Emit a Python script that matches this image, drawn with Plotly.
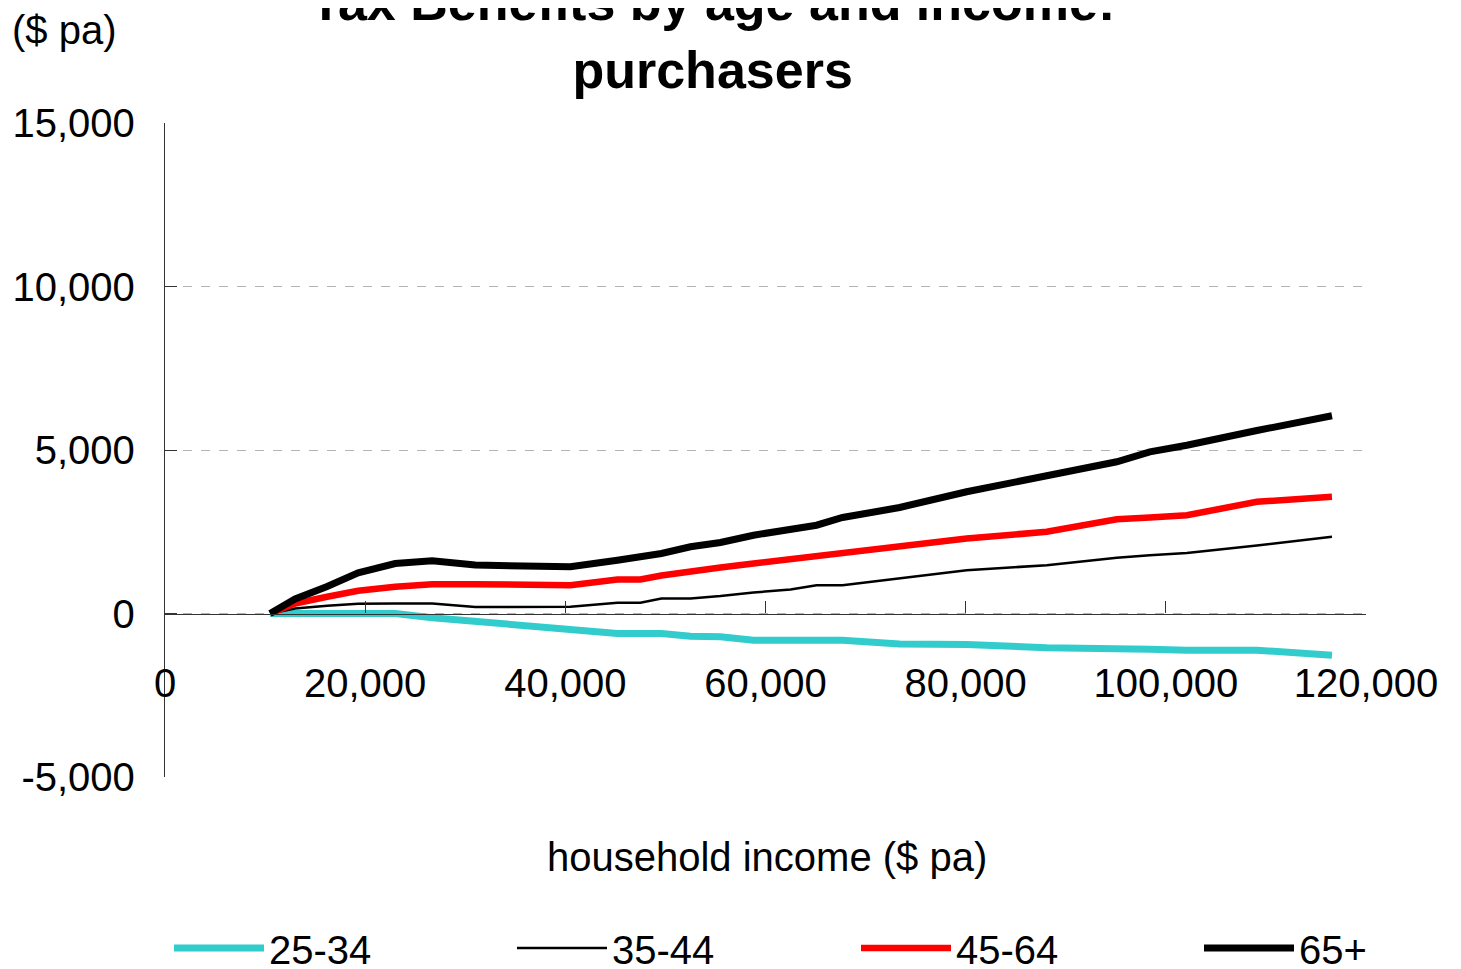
import plotly.graph_objects as go

income = [10500, 13000, 16200, 19300, 23000, 26700, 31000, 40500, 45200, 47500,
          49600, 52500, 55500, 58800, 62500, 65100, 67700, 73400, 80100, 88100,
          95100, 98400, 102100, 109100, 116600]

age_25_34 = [0, 0, 0, 0, 0, -128, -238, -486, -612, -612,
             -612, -694, -713, -817, -817, -817, -817, -933, -948, -1049,
             -1049, -1090, -1122, -1122, -1275]
age_35_44 = [0, 153, 235, 297, 306, 306, 199, 205, 327, 327,
             459, 459, 535, 642, 734, 865, 865, 1070, 1324, 1477,
             1703, 1783, 1850, 2080, 2346]
age_45_64 = [0, 306, 511, 694, 817, 896, 896, 865, 1040, 1040,
             1162, 1294, 1407, 1529, 1661, 1758, 1856, 2049, 2294, 2498,
             2884, 2936, 3006, 3416, 3569]
age_65p = [0, 443, 826, 1245, 1529, 1612, 1483, 1428, 1630, 1743,
           1835, 2040, 2171, 2394, 2600, 2700, 2936, 3242, 3722, 4229,
           4639, 4945, 5147, 5596, 6046]

series_names = ["25-34", "35-44", "45-64", "65+"]
x_ticks = [0, 20000, 40000, 60000, 80000, 100000, 120000]
x_tick_labels = ["0", "20,000", "40,000", "60,000", "80,000", "100,000", "120,000"]
y_ticks = [-5000, 0, 5000, 10000, 15000]
y_tick_labels = ["-5,000", "0", "5,000", "10,000", "15,000"]

FONT = "Liberation Sans, Arial, sans-serif"

# page offset of the figure (default body margin of the html page)
OFF = 8
# plot area in page pixels: left 165, right 1366, top 123, bottom 777
PL, PW, PB, PH = 165, 1201, 777, 654


def px_x(p):
    return (p - PL) / PW


def px_y(p):
    return (PB - p) / PH


fig = go.Figure()
styles = [("#33CCCC", 7), ("#000000", 2.5), ("#FF0000", 6.5), ("#000000", 7)]
legend_ids = ["legend", "legend2", "legend3", "legend4"]
legend_px = [169, 512, 856, 1199]
for name, vals, (col, w), lid in zip(series_names, [age_25_34, age_35_44, age_45_64, age_65p],
                                     styles, legend_ids):
    fig.add_trace(go.Scatter(x=income, y=vals, name=name, mode="lines",
                             line=dict(color=col, width=w), legend=lid))

legend_common = dict(orientation="h", xanchor="left", y=px_y(948), yanchor="middle",
                     font=dict(size=40, family=FONT, color="black"), itemwidth=90,
                     bgcolor="rgba(0,0,0,0)", borderwidth=0)

fig.update_layout(
    width=1461, height=969,
    margin=dict(l=PL - OFF, r=1461 - (PL + PW - OFF), t=PB - PH - OFF,
                b=969 - (PB - OFF), autoexpand=False),
    paper_bgcolor="white", plot_bgcolor="white",
    font=dict(family=FONT, size=40, color="black"),
    showlegend=True,
    xaxis=dict(range=[0, 120000], tickvals=x_ticks, ticktext=x_tick_labels,
               anchor="free", position=0.25, showline=True, linecolor="#333333",
               linewidth=1.3, ticks="inside", ticklen=12, tickcolor="#333333",
               showgrid=False, zeroline=False, ticklabelstandoff=34, automargin=False,
               tickfont=dict(size=40, family=FONT)),
    yaxis=dict(range=[-5000, 15000], tickvals=y_ticks, ticktext=y_tick_labels,
               showline=True, linecolor="#333333", linewidth=1.3,
               ticks="inside", ticklen=12, tickcolor="#333333",
               showgrid=True, gridcolor="#b3b3b3", griddash="dash", gridwidth=1,
               zeroline=False, ticklabelstandoff=21, automargin=False,
               tickfont=dict(size=40, family=FONT)),
)
for lid, lpx in zip(legend_ids, legend_px):
    fig.update_layout({lid: dict(legend_common, x=px_x(lpx))})

fig.add_annotation(text="<b>Tax Benefits by age and income:<br>purchasers</b>",
                   xref="paper", yref="paper", x=px_x(712), y=px_y(36),
                   xanchor="center", yanchor="middle", showarrow=False,
                   font=dict(size=52, family=FONT, color="black"))
fig.add_annotation(text="($ pa)", xref="paper", yref="paper",
                   x=px_x(10), y=px_y(30),
                   xanchor="left", yanchor="middle", showarrow=False,
                   font=dict(size=40, family=FONT, color="black"))
fig.add_annotation(text="household income ($ pa)", xref="paper", yref="paper",
                   x=px_x(767), y=px_y(857),
                   xanchor="center", yanchor="middle", showarrow=False,
                   font=dict(size=40, family=FONT, color="black"))

fig.write_html("out.html")
